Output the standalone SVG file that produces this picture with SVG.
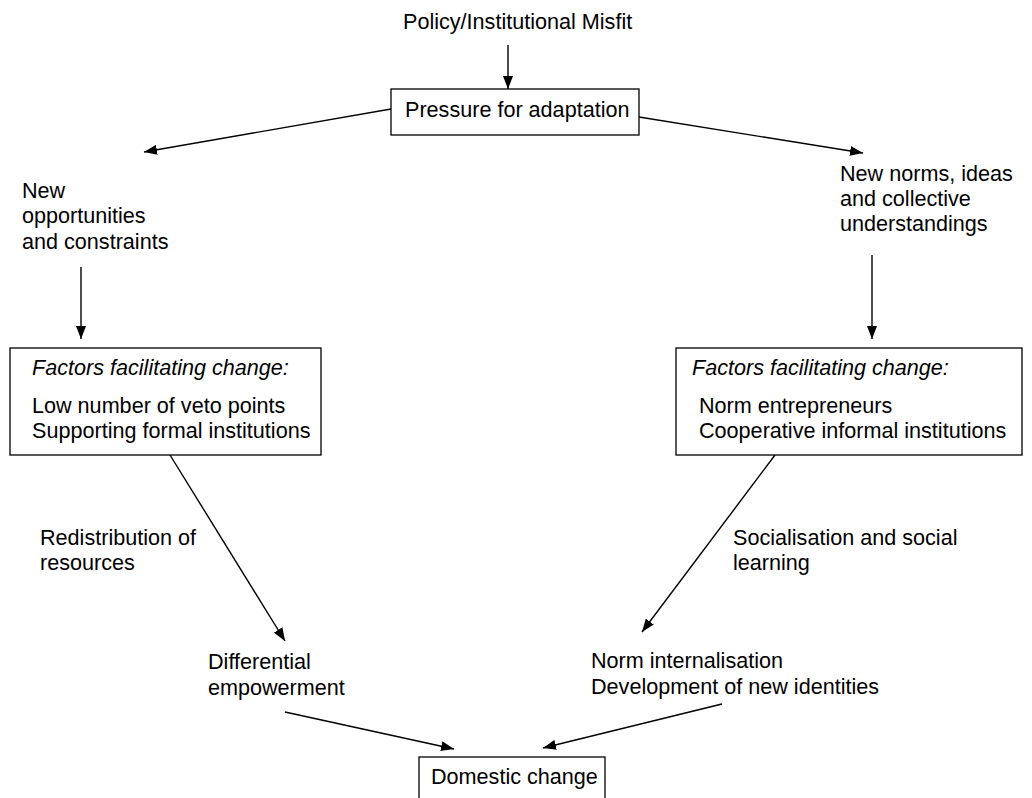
<svg xmlns="http://www.w3.org/2000/svg" width="1032" height="798" viewBox="0 0 1032 798">
  <defs>
    <style>
      text { font-family: "Liberation Sans", Arial, Helvetica, sans-serif; font-size: 21.6px; fill: #000; }
      .it { font-style: italic; }
      .box { fill: #fff; stroke: #000; stroke-width: 1.3; }
      .edge { fill: none; stroke: #000; stroke-width: 1.4; marker-end: url(#arrow); }
    </style>
    <marker id="arrow" markerUnits="userSpaceOnUse" markerWidth="14" markerHeight="10" refX="13" refY="5" orient="auto">
      <path d="M0,0 L13,5 L0,10 z" fill="#000"/>
    </marker>
  </defs>
  <rect width="1032" height="798" fill="#fff"/>

  <g id="connectors">
    <line class="edge" x1="508" y1="45" x2="508" y2="89"/>
    <line class="edge" x1="391" y1="109" x2="144" y2="152"/>
    <line class="edge" x1="639" y1="117" x2="863" y2="153"/>
    <line class="edge" x1="81" y1="267" x2="81" y2="339"/>
    <line class="edge" x1="872" y1="255" x2="872" y2="339"/>
    <line class="edge" x1="170" y1="455" x2="285" y2="641"/>
    <line class="edge" x1="775" y1="455" x2="642" y2="632"/>
    <line class="edge" x1="285" y1="712" x2="454" y2="749"/>
    <line class="edge" x1="722" y1="704" x2="543" y2="748"/>
  </g>

  <g id="misfit">
    <text x="403" y="29">Policy/Institutional Misfit</text>
  </g>

  <g id="pressure">
    <rect class="box" x="391" y="89" width="248" height="46"/>
    <text x="405" y="117">Pressure for adaptation</text>
  </g>

  <g id="opportunities">
    <text x="22" y="198">New</text>
    <text x="22" y="223">opportunities</text>
    <text x="22" y="249">and constraints</text>
  </g>

  <g id="norms">
    <text x="840" y="181">New norms, ideas</text>
    <text x="840" y="206">and collective</text>
    <text x="840" y="231">understandings</text>
  </g>

  <g id="factors-left">
    <rect class="box" x="10" y="348" width="311" height="107"/>
    <text class="it" x="32" y="375">Factors facilitating change:</text>
    <text x="32" y="413">Low number of veto points</text>
    <text x="32" y="438">Supporting formal institutions</text>
  </g>

  <g id="factors-right">
    <rect class="box" x="676" y="348" width="346" height="107"/>
    <text class="it" x="692" y="375">Factors facilitating change:</text>
    <text x="699" y="413">Norm entrepreneurs</text>
    <text x="699" y="438">Cooperative informal institutions</text>
  </g>

  <g id="redistribution">
    <text x="40" y="545">Redistribution of</text>
    <text x="40" y="570">resources</text>
  </g>

  <g id="socialisation">
    <text x="733" y="545">Socialisation and social</text>
    <text x="733" y="570">learning</text>
  </g>

  <g id="empowerment">
    <text x="208" y="669">Differential</text>
    <text x="208" y="695">empowerment</text>
  </g>

  <g id="internalisation">
    <text x="591" y="668">Norm internalisation</text>
    <text x="591" y="694">Development of new identities</text>
  </g>

  <g id="domestic-change">
    <rect class="box" x="419" y="757" width="186" height="60"/>
    <text x="431" y="784">Domestic change</text>
  </g>
</svg>
